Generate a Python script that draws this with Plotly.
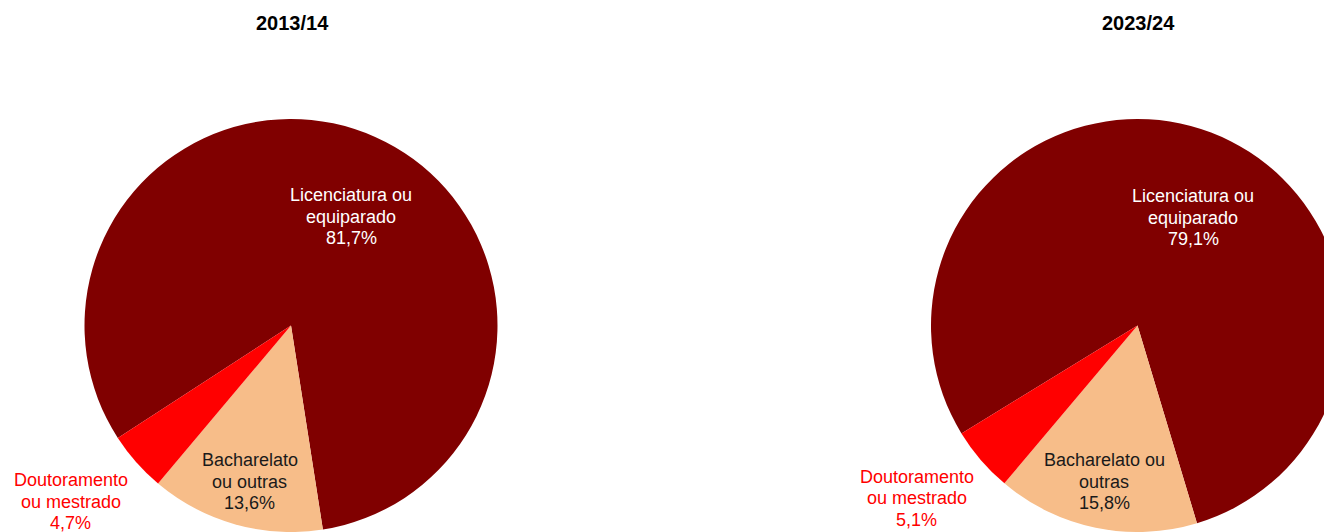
import plotly.graph_objects as go

# ---- data ----
categories = ["Licenciatura ou equiparado", "Bacharelato ou outras", "Doutoramento ou mestrado"]
years = ["2013/14", "2023/24"]
values_2013 = [81.7, 13.6, 4.7]
values_2023 = [79.1, 15.8, 5.1]
labels_2013 = [["Licenciatura ou", "equiparado"], ["Bacharelato", "ou outras"], ["Doutoramento", "ou mestrado"]]
labels_2023 = [["Licenciatura ou", "equiparado"], ["Bacharelato ou", "outras"], ["Doutoramento", "ou mestrado"]]

colors = ["#800000", "#F7BD89", "#FF0000"]
text_colors = ["white", "#1a1a1a", "#FF0000"]

W, H = 1344, 532
T = 119
PH = H - T


def px_x(p):
    return p / W


def px_y(p):
    return (H - p) / PH


fig = go.Figure()

domains = [[84, 498], [931, 1344]]
rotations = [237, 238.5]
series = [values_2013, values_2023]
for vals, dom, rot, name in zip(series, domains, rotations, years):
    fig.add_trace(go.Pie(
        labels=categories, values=vals, sort=False, direction="clockwise",
        rotation=rot, marker=dict(colors=colors, line=dict(width=0)),
        textinfo="none", hoverinfo="label+percent", showlegend=False,
        domain=dict(x=[px_x(dom[0]), px_x(dom[1])], y=[0, 1]), name=name,
    ))

annotations = []
# titles
for name, cx in zip(years, [292, 1138]):
    annotations.append(dict(text="<b>%s</b>" % name, x=px_x(cx), y=px_y(23), xref="paper", yref="paper",
                            showarrow=False, xanchor="center", yanchor="middle",
                            font=dict(family="Liberation Sans Narrow, Arial Narrow, Liberation Sans",
                                      size=20, color="black")))

# slice labels (position of first line center in px)
label_pos = [
    [(351, 195), (249.5, 460), (70.8, 480)],
    [(1193, 196), (1104, 460), (916.7, 476.5)],
]
step = 21.7
for vals, labs, poss in zip(series, [labels_2013, labels_2023], label_pos):
    for v, lab, (cx, cy), tc in zip(vals, labs, poss, text_colors):
        lines = lab + [("%.1f" % v).replace(".", ",") + "%"]
        for i, ln in enumerate(lines):
            annotations.append(dict(text=ln, x=px_x(cx), y=px_y(cy + i * step), xref="paper", yref="paper",
                                    showarrow=False, xanchor="center", yanchor="middle",
                                    font=dict(family="Liberation Sans, Arial", size=18, color=tc)))

fig.update_layout(
    width=W, height=H,
    margin=dict(l=0, r=0, t=T, b=0),
    paper_bgcolor="white", plot_bgcolor="white",
    annotations=annotations,
)

fig.write_html("out.html", config={"displayModeBar": False},
               post_script="document.body.style.margin='0';document.body.style.overflow='hidden';")
